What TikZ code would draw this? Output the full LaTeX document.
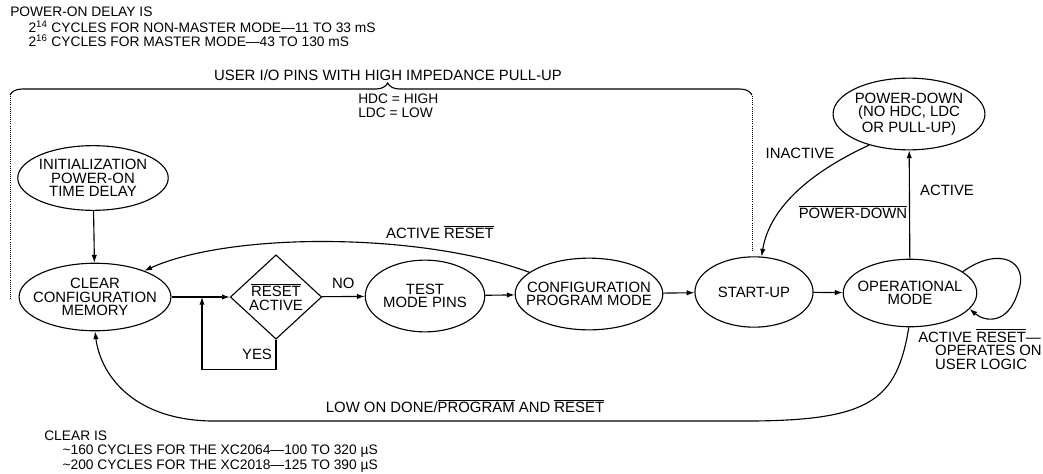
\documentclass[tikz,border=0pt]{standalone}
\usepackage{fontspec}
\setmainfont{Liberation Sans}
\usetikzlibrary{shapes.geometric,arrows.meta,decorations.pathreplacing}

\newcommand{\ovl}[1]{$\overline{\mbox{#1}}$}

\begin{document}
\begin{tikzpicture}[x=0.025cm,y=-0.025cm,
      every node/.style={align=center, inner sep=0pt, font=\fontsize{10.6}{9.6}\selectfont},
      arrow/.style={-{Latex[length=5.5pt,width=3.8pt]}, line width=0.8pt},
      state/.style={ellipse, draw, line width=0.8pt, inner xsep=-12pt, inner ysep=-4pt},
      note/.style={align=left, anchor=north west, font=\fontsize{9.8}{10}\selectfont}
    ]
      \useasboundingbox (0,0) rectangle (1043,473);

      % Notes
      \node[note] (delay) at (10,7) {POWER-ON DELAY IS\\[1pt]
        \hspace*{13pt}2\textsuperscript{14} CYCLES FOR NON-MASTER MODE---11 TO 33 mS\\
        \hspace*{13pt}2\textsuperscript{16} CYCLES FOR MASTER MODE---43 TO 130 mS};
      \node[note] (clearis) at (44,431) {CLEAR IS\\
        \hspace*{13pt}\textasciitilde 160 CYCLES FOR THE XC2064---100 TO 320 µS\\
        \hspace*{13pt}\textasciitilde 200 CYCLES FOR THE XC2018---125 TO 390 µS};

      % User I/O bracket
      \draw[decorate, decoration={brace, amplitude=8.5pt, aspect=0.509}, line width=0.8pt] (10,95) -- (752,95);
      \draw[densely dotted, line width=0.5pt] (10,96) -- (10,300);
      \draw[densely dotted, line width=0.5pt] (752,96) -- (752,252);
      \node (userio) at (388,75) {USER I/O PINS WITH HIGH IMPEDANCE PULL-UP};
      \node[note] (hdc) at (358,94) {HDC = HIGH\\LDC = LOW};

      % States
      \node[state, minimum width=107pt, minimum height=46pt] (init) at (93,178) {INITIALIZATION\\POWER-ON\\TIME DELAY};
      \node[state, minimum width=108pt, minimum height=48pt] (clear) at (95,297) {CLEAR\\CONFIGURATION\\MEMORY};
      \node[diamond, draw, line width=0.8pt, minimum width=65pt, minimum height=60pt] (reset) at (276,297) {\ovl{RESET}\\ACTIVE};
      \node[state, minimum width=85pt, minimum height=51pt] (test) at (425,296) {TEST\\MODE PINS};
      \node[state, minimum width=105pt, minimum height=51pt] (config) at (589,294) {CONFIGURATION\\PROGRAM MODE};
      \node[state, minimum width=84pt, minimum height=50pt] (startup) at (754,292) {START-UP};
      \node[state, minimum width=95pt, minimum height=48pt] (oper) at (910,293) {OPERATIONAL\\MODE};
      \node[state, minimum width=108pt, minimum height=51pt] (pwrdown) at (909,114) {POWER-DOWN\\(NO HDC, LDC\\OR PULL-UP)};

      % Arrows
      \draw[arrow] (init) -- (clear);
      \draw[arrow] (clear) -- (reset);
      \coordinate (yesjoin) at (202,297);
      \draw[arrow] (reset.south) -- ++(0,30) -| (yesjoin);
      \node (yes) at (257,354) {YES};
      \draw[arrow] (reset) -- node[above=5pt] {NO} (test);
      \draw[arrow] (test) -- (config);
      \draw[arrow] (config) -- (startup);
      \draw[arrow] (startup) -- (oper);
      \draw[arrow] (oper) -- (pwrdown);
      \node (active) at (947,190) {ACTIVE};
      \node (notpd) at (853,212) {\ovl{POWER-DOWN}};
      \draw[arrow] (pwrdown.218) .. controls (815,170) and (770,205) .. (startup.78);
      \node (inactive) at (800,153) {INACTIVE};
      \draw[arrow] (oper.22) .. controls (1000,245) and (1030,262) .. (1018,292)
        .. controls (1008,325) and (985,322) .. (oper.345);
      \node[align=left] (operlbl) at (980,349) {ACTIVE \ovl{RESET}---\\\hspace*{12pt}OPERATES ON\\\hspace*{12pt}USER LOGIC};
      \draw[arrow] (config.160) .. controls (420,232) and (230,232) .. (clear.28);
      \node (actreset) at (440,232) {ACTIVE \ovl{RESET}};
      \draw[arrow] (oper.268) .. controls (897,400) and (870,420) .. (753,421) -- (210,421)
        .. controls (130,419) and (100,372) .. (clear.south);
      \node (lowdone) at (465,406) {LOW ON DONE/\ovl{PROGRAM} AND \ovl{RESET}};
    \end{tikzpicture}
\end{document}
